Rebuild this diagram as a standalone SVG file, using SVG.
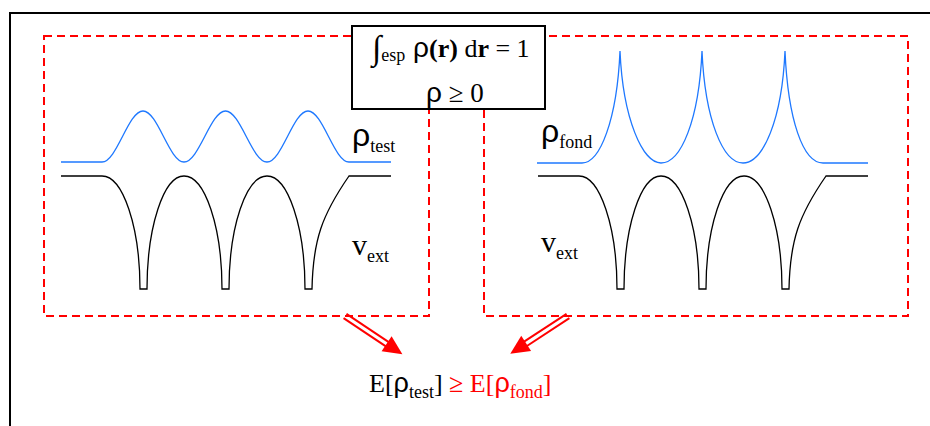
<svg xmlns="http://www.w3.org/2000/svg" xmlns:xlink="http://www.w3.org/1999/xlink" width="930" height="426" viewBox="0 0 930 426">
<style>
.frame{fill:none;stroke:#000;stroke-width:2}
.dash{fill:none;stroke:#ff0000;stroke-width:2;stroke-dasharray:8 5}
.rho{fill:none;stroke:#1e78ff;stroke-width:1.3}
.pot{fill:none;stroke:#000;stroke-width:1.3}
.t{font-family:"Liberation Serif","Times New Roman",serif;fill:#000}
.g{font-family:"Liberation Sans",Arial,sans-serif}
.red{fill:#ff0000}
</style>
<defs>
<g id="arr">
<line x1="0" y1="-2.6" x2="54" y2="-2.6" stroke="#ff0000" stroke-width="2"/>
<line x1="0" y1="2.6" x2="54" y2="2.6" stroke="#ff0000" stroke-width="2"/>
<polygon points="50,-9 69,0 50,9" fill="#ff0000"/>
</g>
<path id="vpath" d="M61,176 H102 C123,176 140,227 140,289 H147 C147,227 163.6,176 184,176 C205,176 222,227 222,289 H229 C229,227 246,176 267,176 C288,176 305,227 305,289 H312 C313,240 322,215 349,176 H391"/>
</defs>
<rect width="930" height="426" fill="#fff"/>
<path class="frame" d="M10,426 V13 H931"/>

<g id="panel-test">
<rect class="dash" x="44" y="36" width="385" height="280"/>
<path class="rho" d="M61,162 H102 C116.8,162 128.2,111 143,111 C157.8,111 169.2,162 184,162 C199,162 210.5,111 225.5,111 C240.5,111 252,162 267,162 C281.8,162 293.2,111 308,111 C322.8,111 334.2,162 349,162 H391"/>
<use xlink:href="#vpath" class="pot"/>
<text class="t" x="352" y="146" font-size="29"><tspan class="g" font-size="32">ρ</tspan><tspan font-size="18" dy="6">test</tspan></text>
<text class="t" x="352" y="255" font-size="30">v<tspan font-size="18" dy="7">ext</tspan></text>
</g>

<g id="panel-fond">
<rect class="dash" x="484" y="36" width="424" height="280"/>
<path class="rho" d="M537,163 H582 C600,163 617,120 620,51 C623,120 643,163 661,163 C681,163 699,120 702,51 C705,120 723,163 743,163 C763,163 782,120 785,51 C788,120 803,163 823,163 H868"/>
<use xlink:href="#vpath" class="pot" transform="translate(477,0)"/>
<text class="t" x="541" y="142" font-size="29"><tspan class="g" font-size="32">ρ</tspan><tspan font-size="18" dy="6">fond</tspan></text>
<text class="t" x="541" y="252" font-size="30">v<tspan font-size="18" dy="7">ext</tspan></text>
</g>

<g id="constraints">
<rect x="352" y="26" width="193" height="83" fill="#fff" stroke="#000" stroke-width="2"/>
<text class="t" x="372" y="57" font-size="26"><tspan font-size="34" dy="2">∫</tspan><tspan font-size="18" dy="2">esp</tspan><tspan class="g" dy="-4" font-size="28"> ρ</tspan><tspan font-weight="bold">(r)</tspan> d<tspan font-weight="bold">r</tspan> = 1</text>
<text class="t" x="455" y="102" font-size="27" text-anchor="middle"><tspan class="g" font-size="28">ρ</tspan> ≥ 0</text>
</g>

<g id="connectors">
<use xlink:href="#arr" transform="translate(345,316) rotate(33.7)"/>
<use xlink:href="#arr" transform="translate(568,316) rotate(146.8)"/>
</g>

<g id="result">
<text class="t" x="369" y="392" font-size="26">E[<tspan class="g" font-size="27">ρ</tspan><tspan font-size="18" dy="6">test</tspan><tspan dy="-6">]</tspan><tspan class="red"> ≥ E[</tspan><tspan class="g red" font-size="27">ρ</tspan><tspan class="red" font-size="18" dy="6">fond</tspan><tspan class="red" dy="-6">]</tspan></text>
</g>
</svg>
